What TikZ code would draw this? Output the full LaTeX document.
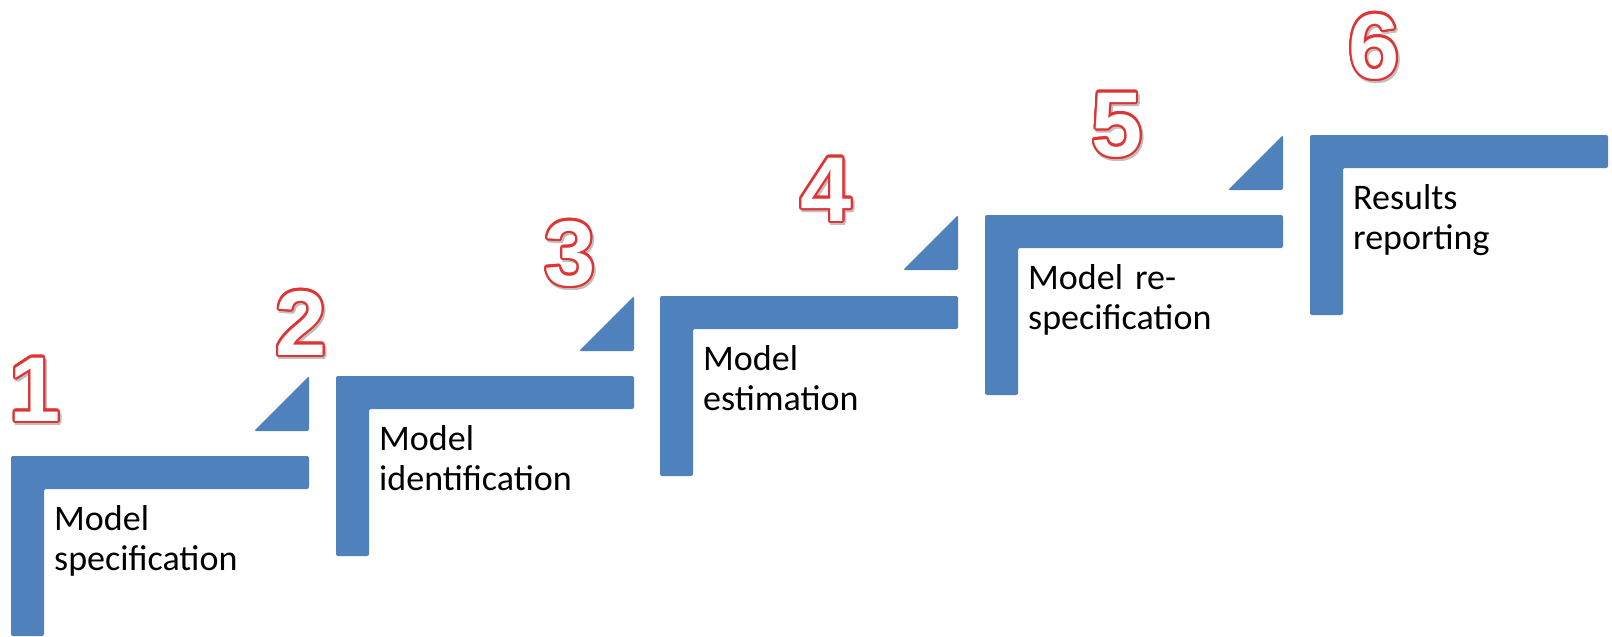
\documentclass[tikz,border=0pt]{standalone}
\usepackage{fontspec}
\setmainfont{Carlito}
\newfontfamily\digitfont{Liberation Sans}
\usepackage[copies]{contour}
\definecolor{stepblue}{RGB}{79,129,189}
\definecolor{numred}{RGB}{222,52,52}
\newcommand\stepdigit[1]{\contourlength{2.2pt}\makebox[0pt][l]{\kern1.8pt\raisebox{-2.6pt}{\contournumber{8}\contour{black!25}{\textcolor{black!25}{#1}}}}\contournumber{20}\contour{numred}{\textcolor{white}{#1}}}
\begin{document}
\begin{tikzpicture}[x=1pt,y=-1pt,
  stepL/.style={fill=stepblue, rounded corners=2pt},
  lbl/.style={anchor=base west, text width=280pt, align=left, inner sep=0pt, font=\fontsize{36}{40}\selectfont},
  num/.style={anchor=base, inner sep=0pt, font=\digitfont\bfseries\fontsize{92}{92}\selectfont}]
\useasboundingbox (0,0) rectangle (1612,637);
\foreach \x/\y in {11/456, 336/376, 660/296, 985/215, 1310/135}
  \fill[stepL] (\x,\y) -- ++(298,0) -- ++(0,33) -- ++(-265,0) -- ++(0,147) -- ++(-33,0) -- cycle;
\foreach \x/\y in {309/376, 634/296, 958/215, 1283/135}
  \fill[stepL] (\x,\y) -- ++(0,55) -- ++(-55,0) -- cycle;
\node[lbl] (t1) at (54,530) {Model\\specification};
\node[lbl] (t2) at (379,450) {Model\\identification};
\node[lbl] (t3) at (703,370) {Model\\estimation};
\node[lbl] (t4) at (1028,289) {Model re-\\specification};
\node[lbl] (t5) at (1353,209) {Results\\reporting};
\node[num] (n1) at (35,421) {\stepdigit{1}};
\node[num] (n2) at (301,355) {\stepdigit{2}};
\node[num] (n3) at (570,285) {\stepdigit{3}};
\node[num] (n4) at (826,221) {\stepdigit{4}};
\node[num] (n5) at (1117,156) {\stepdigit{5}};
\node[num] (n6) at (1374,78) {\stepdigit{6}};
\end{tikzpicture}
\end{document}
